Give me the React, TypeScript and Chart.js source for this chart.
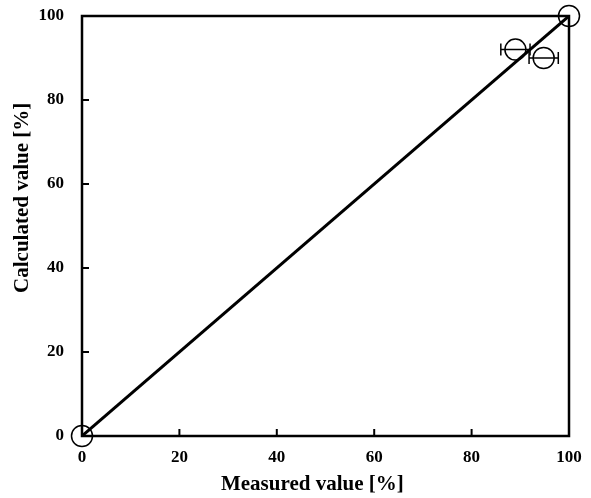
import React, { useEffect, useRef } from "react";
import { Chart, registerables } from "chart.js";
Chart.register(...registerables);

const measured = [0, 89, 94.8, 100];
const calculated = [0, 92, 90, 100];
const errX = [0, 3, 3, 0];
const lineX = [0, 100];
const lineY = [0, 100];
const ticks = [0, 20, 40, 60, 80, 100];
const xTitle = "Measured value [%]";
const yTitle = "Calculated value [%]";

const FONT = "'Liberation Serif', 'Times New Roman', serif";

const framePlugin = {
  id: "frame",
  afterDatasetsDraw(chart: any) {
    const { ctx, chartArea: a, scales } = chart;
    const xs = scales.x, ys = scales.y;
    ctx.save();
    ctx.strokeStyle = "#000";
    ctx.lineWidth = 2.5;
    ctx.strokeRect(a.left, a.top, a.right - a.left, a.bottom - a.top);
    ctx.lineWidth = 2;
    ticks.forEach((t) => {
      const px = xs.getPixelForValue(t);
      ctx.beginPath();
      ctx.moveTo(px, a.bottom);
      ctx.lineTo(px, a.bottom - 7);
      ctx.stroke();
      const py = ys.getPixelForValue(t);
      ctx.beginPath();
      ctx.moveTo(a.left, py);
      ctx.lineTo(a.left + 7, py);
      ctx.stroke();
    });
    ctx.lineWidth = 1.5;
    measured.forEach((m, i) => {
      const e = errX[i];
      if (!e) return;
      const y = ys.getPixelForValue(calculated[i]);
      const x1 = xs.getPixelForValue(m - e);
      const x2 = xs.getPixelForValue(m + e);
      ctx.beginPath();
      ctx.moveTo(x1, y);
      ctx.lineTo(x2, y);
      ctx.moveTo(x1, y - 6);
      ctx.lineTo(x1, y + 6);
      ctx.moveTo(x2, y - 6);
      ctx.lineTo(x2, y + 6);
      ctx.stroke();
    });
    // axis titles
    ctx.fillStyle = "#000";
    ctx.font = `bold 21px ${FONT}`;
    ctx.textAlign = "center";
    ctx.textBaseline = "middle";
    ctx.fillText(xTitle, a.left + (a.right - a.left) * 0.473, a.bottom + 49);
    ctx.translate(23, a.top + (a.bottom - a.top) * 0.433);
    ctx.rotate(-Math.PI / 2);
    ctx.font = `bold 21px ${FONT}`;
    ctx.fillText(yTitle, 0, 0);
    ctx.restore();
  },
};

export default function App() {
  const ref = useRef<HTMLCanvasElement>(null);
  useEffect(() => {
    const chart = new Chart(ref.current!, {
      type: "scatter",
      data: {
        datasets: [
          {
            data: lineX.map((x, i) => ({ x, y: lineY[i] })),
            showLine: true,
            borderColor: "#000",
            borderWidth: 3,
            pointRadius: 0,
            order: 2,
          },
          {
            data: measured.map((x, i) => ({ x, y: calculated[i] })),
            pointStyle: "circle",
            pointRadius: 10.5,
            borderColor: "#000",
            borderWidth: 1.5,
            backgroundColor: "rgba(0,0,0,0)",
            clip: false as any,
            order: 1,
          },
        ],
      },
      options: {
        animation: false,
        responsive: false,
        layout: { padding: { top: 16, right: 22, left: 0, bottom: 0 } },
        plugins: { legend: { display: false }, tooltip: { enabled: false } },
        scales: {
          x: {
            type: "linear",
            min: 0,
            max: 100,
            afterFit: (s: any) => {
              s.height = 62;
              s.paddingLeft = 0;
              s.paddingRight = 0;
            },
            border: { display: false },
            grid: { display: false, drawTicks: false },
            ticks: {
              stepSize: 20,
              padding: 11,
              color: "#000",
              font: { family: FONT, size: 17, weight: "bold" },
            },
          },
          y: {
            type: "linear",
            min: 0,
            max: 100,
            afterFit: (s: any) => {
              s.width = 82;
              s.paddingTop = 0;
              s.paddingBottom = 0;
            },
            border: { display: false },
            grid: { display: false, drawTicks: false },
            ticks: {
              stepSize: 20,
              padding: 18,
              color: "#000",
              font: { family: FONT, size: 17, weight: "bold" },
            },
          },
        },
      },
      plugins: [framePlugin],
    });
    return () => chart.destroy();
  }, []);
  return (
    <div style={{ position: "fixed", left: 0, top: 0, width: 591, height: 498, background: "#fff" }}>
      <canvas ref={ref} width={591} height={498} style={{ width: 591, height: 498 }} />
    </div>
  );
}
